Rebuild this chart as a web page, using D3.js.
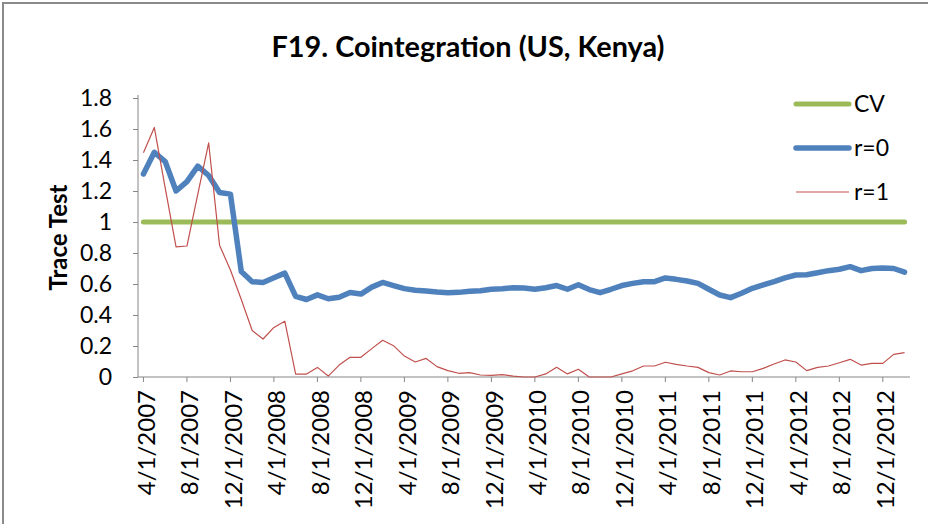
<!DOCTYPE html>
<html><head><meta charset="utf-8">
<script src="https://cdn.jsdelivr.net/npm/d3@7"></script>
<style>body{margin:0;background:#fff;}svg{display:block;}</style>
</head><body>
<svg id="c" width="928" height="524"></svg>
<script>
const categories = ["4/1/2007","5/1/2007","6/1/2007","7/1/2007","8/1/2007","9/1/2007","10/1/2007","11/1/2007","12/1/2007",
"1/1/2008","2/1/2008","3/1/2008","4/1/2008","5/1/2008","6/1/2008","7/1/2008","8/1/2008","9/1/2008","10/1/2008","11/1/2008","12/1/2008",
"1/1/2009","2/1/2009","3/1/2009","4/1/2009","5/1/2009","6/1/2009","7/1/2009","8/1/2009","9/1/2009","10/1/2009","11/1/2009","12/1/2009",
"1/1/2010","2/1/2010","3/1/2010","4/1/2010","5/1/2010","6/1/2010","7/1/2010","8/1/2010","9/1/2010","10/1/2010","11/1/2010","12/1/2010",
"1/1/2011","2/1/2011","3/1/2011","4/1/2011","5/1/2011","6/1/2011","7/1/2011","8/1/2011","9/1/2011","10/1/2011","11/1/2011","12/1/2011",
"1/1/2012","2/1/2012","3/1/2012","4/1/2012","5/1/2012","6/1/2012","7/1/2012","8/1/2012","9/1/2012","10/1/2012","11/1/2012","12/1/2012",
"1/1/2013","2/1/2013"];
const cvValue = 1;
const r0 = [1.31,1.45,1.39,1.20,1.26,1.36,1.30,1.19,1.18,0.68,
0.615,0.61,0.64,0.67,0.52,0.50,0.53,0.505,0.515,0.545,
0.535,0.58,0.61,0.59,0.57,0.56,0.555,0.548,0.544,0.546,
0.553,0.557,0.566,0.57,0.576,0.574,0.566,0.576,0.59,0.566,
0.595,0.564,0.544,0.566,0.59,0.604,0.615,0.615,0.639,0.63,
0.619,0.604,0.566,0.529,0.512,0.54,0.572,0.594,0.615,0.639,
0.658,0.66,0.673,0.686,0.695,0.712,0.686,0.70,0.703,0.70,0.677];
const r1 = [1.447,1.61,1.22,0.84,0.845,1.18,1.51,0.85,0.69,0.50,
0.30,0.245,0.32,0.36,0.019,0.019,0.062,0.006,0.077,0.127,
0.127,0.183,0.237,0.202,0.135,0.097,0.12,0.067,0.041,0.024,
0.028,0.013,0.01,0.015,0.006,0,0,0.02,0.063,0.02,
0.05,0,0,0,0.02,0.04,0.071,0.071,0.095,0.082,
0.071,0.062,0.028,0.013,0.039,0.034,0.034,0.056,0.084,0.11,
0.097,0.041,0.062,0.071,0.092,0.114,0.077,0.088,0.088,0.146,0.157];
const yTicks = [0,0.2,0.4,0.6,0.8,1,1.2,1.4,1.6,1.8];
const seriesNames = ["CV","r=0","r=1"];
const colors = ["#9BBB59","#4F81BD","#C0504D"];

const svg = d3.select("#c");
const font = "Lato, 'Open Sans', sans-serif";
const L = 138, R = 910, T = 98, B = 377;

// frame
svg.append("path").attr("d","M3,524 V3 H928").attr("fill","none").attr("stroke","#8a8a8a").attr("stroke-width",2);

svg.append("text").attr("x",468).attr("y",57).attr("text-anchor","middle")
  .attr("font-family",font).attr("font-weight","bold").attr("font-size",28).attr("fill","#000")
  .attr("textLength",393).attr("lengthAdjust","spacingAndGlyphs")
  .text("F19. Cointegration (US, Kenya)");

const x = d3.scaleBand().domain(categories).range([L,R]).padding(0);
const xc = d => x(d) + x.bandwidth()/2;
const y = d3.scaleLinear().domain([0,1.8]).range([B,T]);

// y axis
const yAxis = d3.axisLeft(y).tickValues(yTicks).tickSize(5).tickPadding(21).tickFormat(d3.format("~g"));
const gy = svg.append("g").attr("transform",`translate(${L},0)`).call(yAxis);
gy.select(".domain").attr("stroke","#868686").attr("d",`M0,${T-3}V${B}`);
gy.selectAll(".tick line").attr("stroke","#868686");
gy.selectAll("text").attr("font-family",font).attr("font-size",23).attr("fill","#000");

svg.append("text").attr("transform",`translate(67,${(T+B)/2}) rotate(-90)`).attr("text-anchor","middle")
  .attr("font-family",font).attr("font-weight","bold").attr("font-size",24).attr("fill","#000").text("Trace Test");

// x axis
const labelCats = categories.filter((d,i)=>i%4===0);
const xAxis = d3.axisBottom(x).tickValues(labelCats).tickSize(5).tickPadding(6);
const gx = svg.append("g").attr("transform",`translate(0,${B})`).call(xAxis);
gx.select(".domain").attr("stroke","#868686").attr("d",`M${L},0H${R}`);
gx.selectAll(".tick line").attr("stroke","#868686");
gx.selectAll("text").attr("font-family",font).attr("font-size",24).attr("fill","#000")
  .attr("transform","rotate(-90)").attr("text-anchor","end").attr("dy","0.38em").attr("x",-13).attr("y",2);

// lines
const line = d3.line().x((d,i)=>xc(categories[i])).y(d=>y(d)).curve(d3.curveLinear);
const cvData = categories.map(()=>cvValue);
svg.append("path").datum(cvData).attr("d",line).attr("fill","none").attr("stroke",colors[0]).attr("stroke-width",5).attr("stroke-linecap","round");
svg.append("path").datum(r0).attr("d",line).attr("fill","none").attr("stroke",colors[1]).attr("stroke-width",5.5).attr("stroke-linecap","round").attr("stroke-linejoin","round");
svg.append("path").datum(r1).attr("d",line).attr("fill","none").attr("stroke",colors[2]).attr("stroke-width",1.2).attr("stroke-linejoin","round");

// legend
const widths = [5,5.5,1.2];
const lg = svg.append("g");
seriesNames.forEach((n,i)=>{
  const yy = 104 + i*44;
  lg.append("line").attr("x1",796).attr("x2",849).attr("y1",yy).attr("y2",yy)
    .attr("stroke",colors[i]).attr("stroke-width",widths[i]).attr("stroke-linecap", i<2?"round":"butt");
  lg.append("text").attr("x",854).attr("y",yy).attr("dy","0.35em").attr("font-family",font)
    .attr("font-size",23).attr("fill","#000").text(n);
});
</script>
</body></html>
